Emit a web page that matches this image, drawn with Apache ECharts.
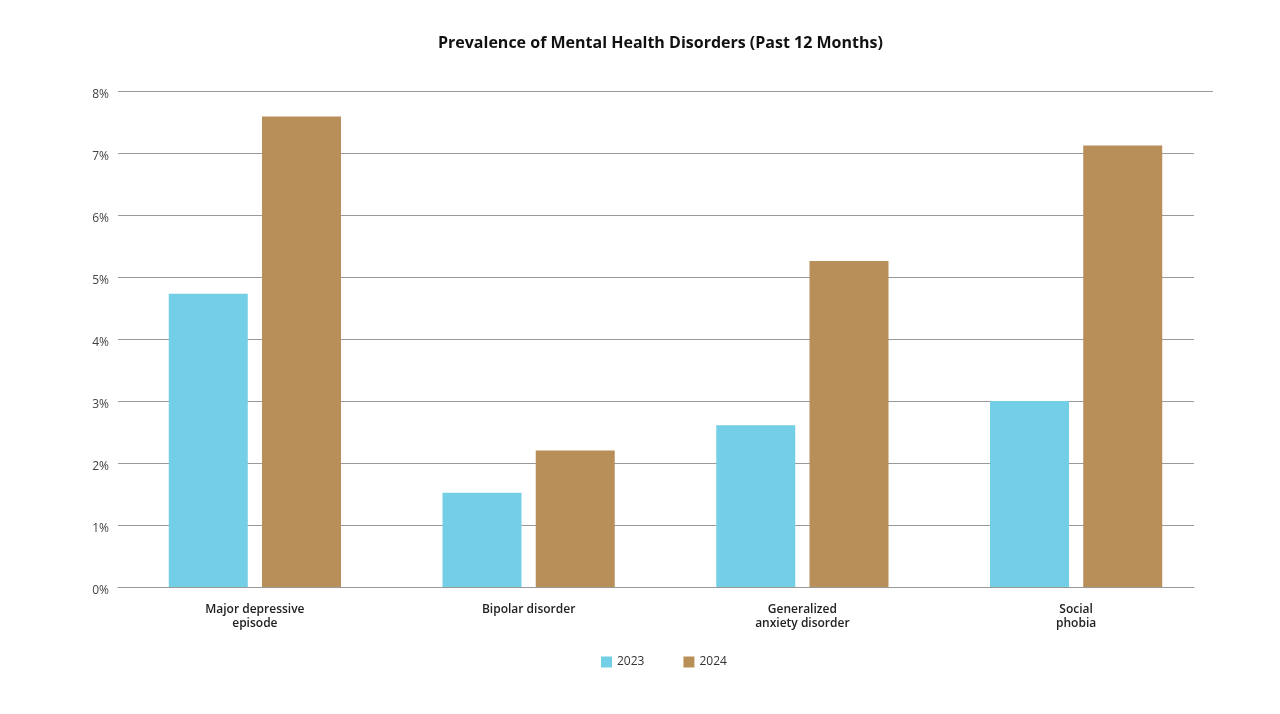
<!DOCTYPE html>
<html>
<head>
<meta charset="utf-8">
<script src="https://cdn.jsdelivr.net/npm/echarts@6/dist/echarts.min.js"></script>
<style>html,body{margin:0;padding:0;background:#fff}#c{width:1280px;height:714px}</style>
</head>
<body>
<div id="c"></div>
<script>
const categories = ['Major depressive\nepisode', 'Bipolar disorder', 'Generalized\nanxiety disorder', 'Social\nphobia'];
const values2023 = [4.73, 1.52, 2.61, 3.0];
const values2024 = [7.59, 2.2, 5.26, 7.12];
const seriesNames = ['2023', '2024'];
const yTicks = [0, 1, 2, 3, 4, 5, 6, 7, 8];

const FONT = '"Open Sans", "Noto Sans", sans-serif';
const chart = echarts.init(document.getElementById('c'), null, {renderer: 'canvas'});
chart.setOption({
  animation: false,
  backgroundColor: '#ffffff',
  title: {
    text: 'Prevalence of Mental Health Disorders (Past 12 Months)',
    left: 433, top: 30,
    textStyle: {fontFamily: FONT, fontSize: 16, fontWeight: 'bold', color: '#111'}
  },
  legend: {
    data: seriesNames,
    bottom: 41, left: 596,
    itemWidth: 11, itemHeight: 11, itemGap: 39,
    icon: 'rect',
    textStyle: {fontFamily: FONT, fontSize: 12, color: '#333'}
  },
  grid: [
    {left: 118, right: 67, top: 91, bottom: 127},
    {left: 118, right: 86, top: 91, bottom: 127}
  ],
  xAxis: [
    {
      type: 'category', data: categories, gridIndex: 0,
      axisLine: {show: false}, axisTick: {show: false},
      axisLabel: {fontFamily: FONT, fontSize: 12, fontWeight: 600, color: '#222', margin: 16, lineHeight: 14, interval: 0}
    },
    {
      type: 'category', data: categories, gridIndex: 1,
      axisLine: {show: true, lineStyle: {color: '#999', width: 1}},
      axisTick: {show: false}, axisLabel: {show: false}
    }
  ],
  yAxis: [
    {
      type: 'value', gridIndex: 0, min: 0, max: 8, interval: 1,
      axisLabel: {show: false}, splitLine: {show: false}, axisLine: {show: false}
    },
    {
      type: 'value', gridIndex: 1, min: yTicks[0], max: yTicks[yTicks.length - 1], interval: 1,
      axisLine: {show: false}, axisTick: {show: false},
      axisLabel: {fontFamily: FONT, fontSize: 12, color: '#444', margin: 9, verticalAlign: 'top', lineHeight: 8, formatter: v => v + '%'},
      splitLine: {lineStyle: {color: '#999', width: 1}}
    }
  ],
  series: [
    {
      name: seriesNames[0], type: 'bar', xAxisIndex: 0, yAxisIndex: 0,
      data: values2023, barWidth: 79, barGap: '18%',
      itemStyle: {color: '#72CFE6'},
      markLine: {
        silent: true, symbol: 'none', label: {show: false},
        lineStyle: {color: '#999', width: 1, type: 'solid'},
        data: [{yAxis: yTicks[yTicks.length - 1]}]
      }
    },
    {
      name: seriesNames[1], type: 'bar', xAxisIndex: 0, yAxisIndex: 0,
      data: values2024, barWidth: 79, barGap: '18%',
      itemStyle: {color: '#B88E59'}
    }
  ]
});
</script>
</body>
</html>
